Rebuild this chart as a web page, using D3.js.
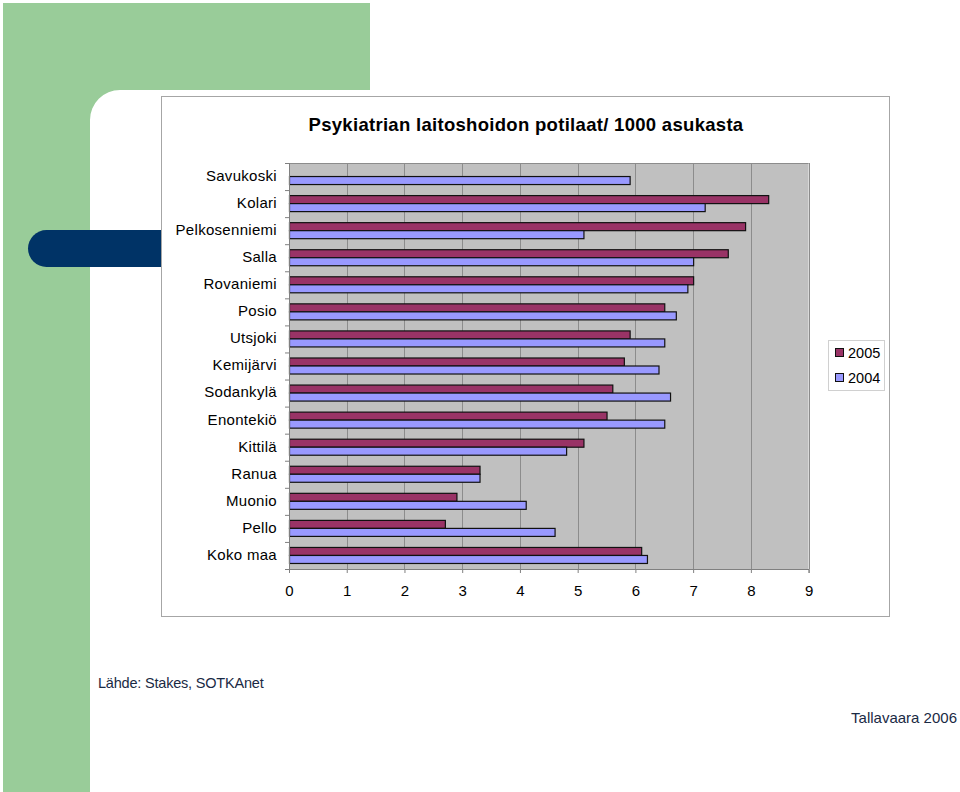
<!DOCTYPE html>
<html><head><meta charset="utf-8">
<script src="https://cdn.jsdelivr.net/npm/d3@7"></script>
<style>html,body{margin:0;padding:0;background:#fff;}svg{display:block;font-family:"Liberation Sans",Arial,sans-serif;}</style>
</head><body>
<script>
const categories = ["Savukoski","Kolari","Pelkosenniemi","Salla","Rovaniemi","Posio","Utsjoki","Kemijärvi","Sodankylä","Enontekiö","Kittilä","Ranua","Muonio","Pello","Koko maa"];
const values2005 = [null,8.3,7.9,7.6,7.0,6.5,5.9,5.8,5.6,5.5,5.1,3.3,2.9,2.7,6.1];
const values2004 = [5.9,7.2,5.1,7.0,6.9,6.7,6.5,6.4,6.6,6.5,4.8,3.3,4.1,4.6,6.2];
const seriesNames = ["2005","2004"];
const xTicks = [0,1,2,3,4,5,6,7,8,9];
const title = "Psykiatrian laitoshoidon potilaat/ 1000 asukasta";

const W=960,H=792;
const svg=d3.select("body").append("svg").attr("width",W).attr("height",H);

// slide decoration
svg.append("path").attr("d","M3,3 H370 V90 H120 A30,30 0 0 0 90,120 V792 H3 Z").attr("fill","#99CC99");
svg.append("rect").attr("x",28).attr("y",230).attr("width",180).attr("height",37).attr("rx",18.5).attr("fill","#003366");

// chart box
svg.append("rect").attr("x",161.5).attr("y",96.5).attr("width",728).attr("height",520).attr("fill","#fff").attr("stroke","#a6a6a6");

svg.append("text").attr("x",526).attr("y",131).attr("text-anchor","middle")
  .attr("font-size",18.5).attr("letter-spacing",0.3).attr("font-weight","bold").text(title);

const x=d3.scaleLinear().domain([0,9]).range([289,808.6]);
const y=d3.scaleBand().domain(categories).range([163,569]);
const ys=d3.scaleBand().domain(seriesNames).range([0,y.bandwidth()]).paddingInner(0).paddingOuter(0.69);
const colors={"2005":"#993366","2004":"#9999FF"};

const g=svg.append("g");
g.append("rect").attr("x",x(0)).attr("y",163).attr("width",x(9)-x(0)).attr("height",569-163).attr("fill","#C0C0C0");
g.selectAll("line.grid").data(xTicks.slice(1)).join("line").attr("class","grid")
  .attr("x1",d=>Math.round(x(d))+0.5).attr("x2",d=>Math.round(x(d))+0.5).attr("y1",163).attr("y2",569)
  .attr("stroke","#8c8c8c").attr("stroke-width",1);
g.append("line").attr("x1",x(0)).attr("x2",x(9)).attr("y1",163.5).attr("y2",163.5).attr("stroke","#8c8c8c");

const data=[];
categories.forEach((c,i)=>{
  data.push({c,s:"2005",v:values2005[i]});
  data.push({c,s:"2004",v:values2004[i]});
});
g.selectAll("rect.bar").data(data.filter(d=>d.v!=null)).join("rect").attr("class","bar")
  .attr("x",x(0)+0.5).attr("y",d=>y(d.c)+ys(d.s))
  .attr("width",d=>x(d.v)-x(0)).attr("height",ys.bandwidth())
  .attr("fill",d=>colors[d.s]).attr("stroke","#111").attr("stroke-width",1.2);

// axes
const xa=svg.append("g").attr("transform","translate(0,569)")
  .call(d3.axisBottom(x).tickValues(xTicks).tickSize(4).tickPadding(12).tickFormat(d3.format("d")));
xa.select(".domain").attr("stroke","#808080");
xa.selectAll(".tick line").attr("stroke","#808080");
xa.selectAll("text").attr("font-size",15).attr("fill","#000").attr("font-family","Liberation Sans, Arial");

const yl=svg.append("g");
yl.append("line").attr("x1",289.5).attr("x2",289.5).attr("y1",163).attr("y2",569).attr("stroke","#808080");
yl.selectAll("line.t").data(categories.concat(["_end"])).join("line").attr("class","t")
  .attr("x1",285).attr("x2",289).attr("y1",(d,i)=>163+i*y.step()+0.5).attr("y2",(d,i)=>163+i*y.step()+0.5)
  .attr("stroke","#808080");
yl.selectAll("text").data(categories).join("text")
  .attr("x",277).attr("y",d=>y(d)+y.bandwidth()/2-1).attr("dy","0.36em").attr("text-anchor","end")
  .attr("font-size",15).attr("letter-spacing",0.3).attr("fill","#000").text(d=>d);

// legend
const lg=svg.append("g");
lg.append("rect").attr("x",828.5).attr("y",340.5).attr("width",56).attr("height",50).attr("fill","#fff").attr("stroke","#d0d0d0");
seriesNames.forEach((s,i)=>{
  const yy=353+i*25;
  lg.append("rect").attr("x",835.5).attr("y",yy-4.5).attr("width",8).attr("height",8).attr("fill",colors[s]).attr("stroke","#111");
  lg.append("text").attr("x",848).attr("y",yy).attr("dy","0.36em").attr("font-size",14.5).text(s);
});

svg.append("text").attr("x",98).attr("y",688).attr("font-size",14.5).attr("letter-spacing",-0.2).attr("fill","#1a2a44").text("Lähde: Stakes, SOTKAnet");
svg.append("text").attr("x",957).attr("y",723).attr("text-anchor","end").attr("font-size",15).attr("fill","#1a2a44").text("Tallavaara 2006");
</script>
</body></html>
